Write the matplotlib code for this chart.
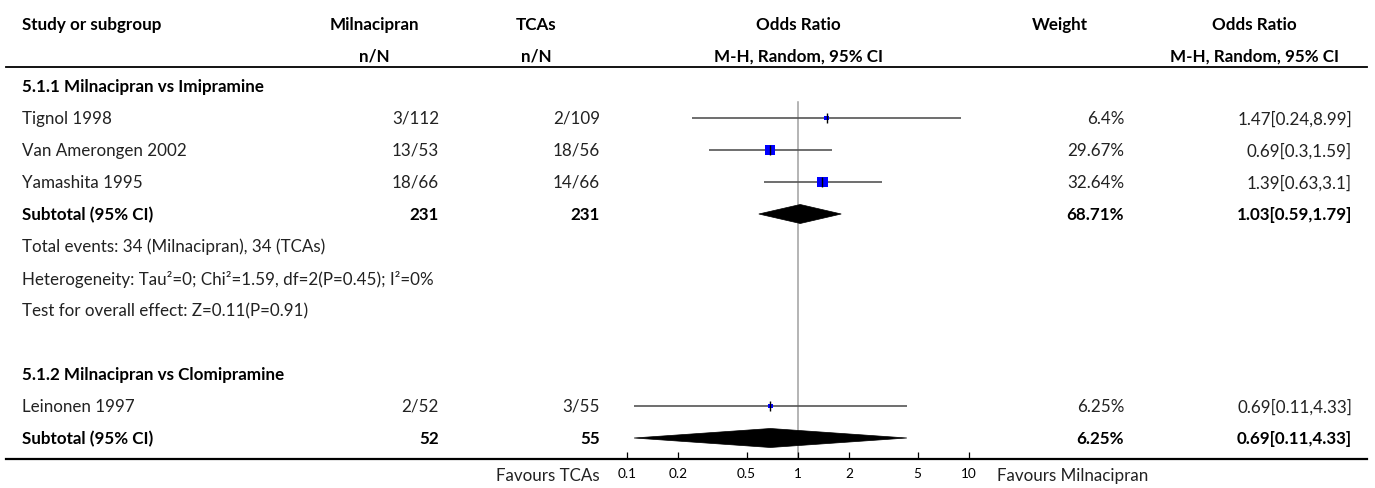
import matplotlib
matplotlib.use('Agg')
import matplotlib.pyplot as plt
from matplotlib.lines import Line2D
from matplotlib.patches import Polygon
from matplotlib.ticker import FixedLocator, FixedFormatter, NullLocator
import numpy as np

# ---------------- data ----------------
group1_title = "5.1.1 Milnacipran vs Imipramine"
group1_studies = ["Tignol 1998", "Van Amerongen 2002", "Yamashita 1995"]
group1_milna = ["3/112", "13/53", "18/66"]
group1_tca = ["2/109", "18/56", "14/66"]
group1_or = [1.47, 0.69, 1.39]
group1_lo = [0.24, 0.30, 0.63]
group1_hi = [8.99, 1.59, 3.10]
group1_weight = [6.4, 29.67, 32.64]
group1_weight_txt = ["6.4%", "29.67%", "32.64%"]
group1_ci_txt = ["1.47[0.24,8.99]", "0.69[0.3,1.59]", "1.39[0.63,3.1]"]
group1_sub_n = ["231", "231"]
group1_sub_or, group1_sub_lo, group1_sub_hi = 1.03, 0.59, 1.79
group1_sub_weight_txt = "68.71%"
group1_sub_ci_txt = "1.03[0.59,1.79]"
group1_notes = ["Total events: 34 (Milnacipran), 34 (TCAs)",
                "Heterogeneity: Tau\u00b2=0; Chi\u00b2=1.59, df=2(P=0.45); I\u00b2=0%",
                "Test for overall effect: Z=0.11(P=0.91)"]

group2_title = "5.1.2 Milnacipran vs Clomipramine"
group2_studies = ["Leinonen 1997"]
group2_milna = ["2/52"]
group2_tca = ["3/55"]
group2_or = [0.69]
group2_lo = [0.11]
group2_hi = [4.33]
group2_weight = [6.25]
group2_weight_txt = ["6.25%"]
group2_ci_txt = ["0.69[0.11,4.33]"]
group2_sub_n = ["52", "55"]
group2_sub_or, group2_sub_lo, group2_sub_hi = 0.69, 0.11, 4.33
group2_sub_weight_txt = "6.25%"
group2_sub_ci_txt = "0.69[0.11,4.33]"

xticks = [0.1, 0.2, 0.5, 1, 2, 5, 10]
xtick_labels = ["0.1", "0.2", "0.5", "1", "2", "5", "10"]
favours_left = "Favours TCAs"
favours_right = "Favours Milnacipran"

# ---------------- layout ----------------
W, H = 1375, 489
plt.rcParams['font.family'] = ['Lato', 'DejaVu Sans']
fig = plt.figure(figsize=(W / 100, H / 100), dpi=100)
fig.patch.set_facecolor('white')


def fx(x):
    return x / W


def fy(y):
    return 1 - y / H


# auto-fit font size so that the heterogeneity line matches the reference width
probe = fig.text(0, 0, group1_notes[1], fontsize=10)
fig.canvas.draw()
wpx = probe.get_window_extent(fig.canvas.get_renderer()).width
probe.remove()
FS = 10 * 412.0 / wpx

ROW0, STEP = 87, 32
X_LEFT = 22
X_MIL_R, X_MIL_C = 439, 374
X_TCA_R, X_TCA_C = 600, 536
X_OR_C = 798
X_W_R, X_W_C = 1124, 1060
X_CI_R, X_CI_C = 1352, 1254
TXT = '#222222'


def T(x, row, s, ha='left', bold=False, y=None, size=None):
    yy = y if y is not None else ROW0 + STEP * row
    fig.text(fx(x), fy(yy), s, ha=ha, va='center', fontsize=size or FS,
             fontweight='bold' if bold else 'normal',
             color='black' if bold else TXT)


# headers
T(X_LEFT, 0, "Study or subgroup", bold=True, y=25)
T(X_MIL_C, 0, "Milnacipran", ha='center', bold=True, y=25)
T(X_MIL_C, 0, "n/N", ha='center', bold=True, y=57)
T(X_TCA_C, 0, "TCAs", ha='center', bold=True, y=25)
T(X_TCA_C, 0, "n/N", ha='center', bold=True, y=57)
T(X_OR_C, 0, "Odds Ratio", ha='center', bold=True, y=25)
T(X_OR_C, 0, "M-H, Random, 95% CI", ha='center', bold=True, y=57)
T(X_W_C, 0, "Weight", ha='center', bold=True, y=25)
T(X_CI_C, 0, "Odds Ratio", ha='center', bold=True, y=25)
T(X_CI_C, 0, "M-H, Random, 95% CI", ha='center', bold=True, y=57)

fig.add_artist(Line2D([fx(6), fx(1367)], [fy(68), fy(68)], color='black', lw=1.3))
fig.add_artist(Line2D([fx(6), fx(1367)], [fy(460), fy(460)], color='black', lw=1.6))

# forest axes
ax = fig.add_axes([fx(627), fy(460), (969 - 627) / W, (460 - 68) / H])
ax.set_xscale('log')
ax.set_xlim(0.1, 10)


def row_of(y):
    return (y - ROW0) / STEP


ax.set_ylim(row_of(460), row_of(68))
ax.patch.set_alpha(0)
for sp in ax.spines.values():
    sp.set_visible(False)
ax.yaxis.set_major_locator(NullLocator())
ax.xaxis.set_major_locator(FixedLocator(xticks))
ax.xaxis.set_major_formatter(FixedFormatter(xtick_labels))
ax.xaxis.set_minor_locator(NullLocator())
ax.tick_params(axis='x', direction='in', length=5, width=0.9, pad=6,
               labelsize=FS * 0.8, colors='black')

ax.plot([1, 1], [0.5, row_of(460)], color='#a0a0a0', lw=1.1, zorder=1, clip_on=False)


def study_row(r, name, mil, tca, est, lo, hi, w, wtxt, citxt):
    T(X_LEFT, r, name)
    T(X_MIL_R, r, mil, ha='right')
    T(X_TCA_R, r, tca, ha='right')
    T(X_W_R, r, wtxt, ha='right')
    T(X_CI_R, r, citxt, ha='right')
    ax.plot([lo, hi], [r, r], color='#555555', lw=1.2, zorder=2, solid_capstyle='butt')
    side_px = 1.85 * np.sqrt(w)
    ax.scatter([est], [r], marker='s', s=(side_px * 0.72) ** 2, color='#0000ff',
               edgecolors='none', zorder=3)
    ax.plot([est], [r], marker='|', markersize=6.5, mew=1.0, color='black', zorder=4)


def subtotal_row(r, n, est, lo, hi, wtxt, citxt):
    T(X_LEFT, r, "Subtotal (95% CI)", bold=True)
    T(X_MIL_R, r, n[0], ha='right', bold=True)
    T(X_TCA_R, r, n[1], ha='right', bold=True)
    T(X_W_R, r, wtxt, ha='right', bold=True)
    T(X_CI_R, r, citxt, ha='right', bold=True)
    h = 9.5 / STEP
    ax.add_patch(Polygon([[lo, r], [est, r - h], [hi, r], [est, r + h]],
                         closed=True, facecolor='black', edgecolor='black', lw=0.5, zorder=3))


# group 1
r = 0
T(X_LEFT, r, group1_title, bold=True)
for i in range(len(group1_studies)):
    r += 1
    study_row(r, group1_studies[i], group1_milna[i], group1_tca[i], group1_or[i],
              group1_lo[i], group1_hi[i], group1_weight[i], group1_weight_txt[i], group1_ci_txt[i])
r += 1
subtotal_row(r, group1_sub_n, group1_sub_or, group1_sub_lo, group1_sub_hi,
             group1_sub_weight_txt, group1_sub_ci_txt)
for note in group1_notes:
    r += 1
    T(X_LEFT, r, note)
r += 2
T(X_LEFT, r, group2_title, bold=True)
for i in range(len(group2_studies)):
    r += 1
    study_row(r, group2_studies[i], group2_milna[i], group2_tca[i], group2_or[i],
              group2_lo[i], group2_hi[i], group2_weight[i], group2_weight_txt[i], group2_ci_txt[i])
r += 1
subtotal_row(r, group2_sub_n, group2_sub_or, group2_sub_lo, group2_sub_hi,
             group2_sub_weight_txt, group2_sub_ci_txt)

# favours labels
T(600, 0, favours_left, ha='right', y=476)
T(997, 0, favours_right, ha='left', y=476)

fig.savefig('out.png', dpi=100, facecolor='white')
